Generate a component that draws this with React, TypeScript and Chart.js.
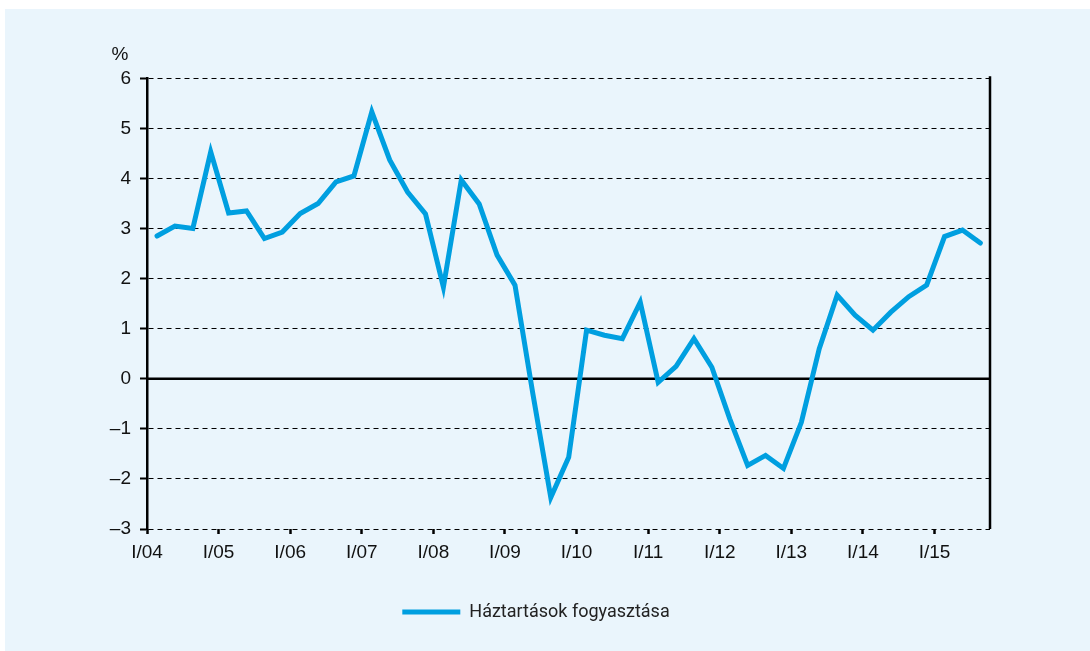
import React, { useEffect, useRef } from "react";
import { Chart, registerables } from "chart.js";

Chart.register(...registerables);

// Year-start tick labels (first quarter of each year)
const yearLabels = ["I/04", "I/05", "I/06", "I/07", "I/08", "I/09", "I/10", "I/11", "I/12", "I/13", "I/14", "I/15"];

// Quarter categories: I/04 ... III/15
const romans = ["I", "II", "III", "IV"];
const quarters: string[] = [];
for (let y = 4; y <= 15; y++) {
  for (let q = 0; q < 4; q++) {
    if (y === 15 && q > 2) break;
    quarters.push(`${romans[q]}/${String(y).padStart(2, "0")}`);
  }
}

// Háztartások fogyasztása (%), quarterly
const consumption = [
  2.85, 3.05, 3.0, 4.53, 3.31, 3.35, 2.8, 2.93, 3.3, 3.5, 3.93, 4.05,
  5.33, 4.37, 3.73, 3.29, 1.83, 3.97, 3.49, 2.47, 1.87, -0.3, -2.37, -1.57,
  0.97, 0.87, 0.8, 1.53, -0.07, 0.25, 0.8, 0.23, -0.8, -1.73, -1.53, -1.79,
  -0.87, 0.6, 1.67, 1.27, 0.97, 1.33, 1.64, 1.87, 2.84, 2.97, 2.71,
];

const seriesLabel = "Háztartások fogyasztása";
const unitLabel = "%";

const LINE_COLOR = "#009fe0";
const PANEL_BG = "#eaf5fc";
const AXIS_FONT = "'Liberation Sans', Arial, Helvetica, sans-serif";

export default function App() {
  const canvasRef = useRef<HTMLCanvasElement | null>(null);

  useEffect(() => {
    const canvas = canvasRef.current;
    if (!canvas) return;

    const decorations = {
      id: "decorations",
      beforeDatasetsDraw(chart: any) {
        const { ctx, chartArea, scales } = chart;
        const y0 = scales.y.getPixelForValue(0);
        ctx.save();
        ctx.strokeStyle = "#000";
        ctx.lineWidth = 2.5;
        ctx.setLineDash([]);
        ctx.beginPath();
        ctx.moveTo(chartArea.left, y0);
        ctx.lineTo(chartArea.right, y0);
        ctx.stroke();
        ctx.beginPath();
        ctx.moveTo(chartArea.right, chartArea.top - 2);
        ctx.lineTo(chartArea.right, chartArea.bottom);
        ctx.stroke();
        ctx.restore();
      },
      afterDraw(chart: any) {
        const { ctx, chartArea } = chart;
        ctx.save();
        ctx.fillStyle = "#111";
        ctx.font = `19px ${AXIS_FONT}`;
        ctx.textAlign = "center";
        ctx.textBaseline = "alphabetic";
        ctx.fillText(unitLabel, chartArea.left - 27, chartArea.top - 18);
        ctx.restore();
      },
    };

    const chart = new Chart(canvas, {
      type: "line",
      data: {
        labels: quarters,
        datasets: [
          {
            label: seriesLabel,
            data: consumption.map((v, i) => ({ x: i + 0.56, y: v })),
            borderColor: LINE_COLOR,
            backgroundColor: LINE_COLOR,
            borderWidth: 5,
            borderCapStyle: "round",
            borderJoinStyle: "miter",
            pointRadius: 0,
            tension: 0,
            fill: false,
          },
        ],
      },
      options: {
        animation: false,
        responsive: false,
        layout: { padding: { left: 77, right: 100, top: 69.3, bottom: 20 } },
        plugins: {
          tooltip: { enabled: false },
          legend: {
            position: "bottom",
            labels: {
              usePointStyle: true,
              pointStyle: "line",
              pointStyleWidth: 58,
              color: "#222",
              font: { family: "Roboto, 'Noto Sans', sans-serif", size: 18 },
              padding: 10,
            },
          },
        },
        scales: {
          x: {
            type: "linear",
            min: 0,
            max: 47.1,
            afterBuildTicks: (scale: any) => {
              scale.ticks = yearLabels.map((_, k) => ({ value: 4 * k }));
            },
            afterFit: (scale: any) => {
              scale.height = 64;
            },
            ticks: {
              autoSkip: false,
              maxRotation: 0,
              padding: 7,
              color: "#111",
              font: { family: AXIS_FONT, size: 19 },
              callback: (_v: any, index: number) => yearLabels[index],
            },
            grid: {
              drawOnChartArea: false,
              drawTicks: true,
              tickLength: 5,
              tickWidth: 2.5,
              tickColor: "#000",
              color: "#000",
            },
            border: { display: false },
          },
          y: {
            min: -3,
            max: 6,
            afterFit: (scale: any) => {
              scale.width = 65;
            },
            ticks: {
              stepSize: 1,
              padding: 9,
              color: "#111",
              font: { family: AXIS_FONT, size: 19 },
              callback: (v: any) => (v < 0 ? `–${Math.abs(v)}` : String(v)),
            },
            grid: {
              color: (ctx: any) => (ctx.tick && ctx.tick.value === 0 ? "rgba(0,0,0,0)" : "#000"),
              lineWidth: 1,
              tickLength: 7,
              tickWidth: 2,
              tickColor: "#000",
              tickBorderDash: [],
            },
            border: { display: true, color: "#000", width: 2.5, dash: [5, 4] },
          },
        },
      },
      plugins: [decorations],
    } as any);

    return () => {
      chart.destroy();
    };
  }, []);

  return (
    <div style={{ position: "fixed", left: 0, top: 0, width: 1090, height: 651, background: "#fff" }}>
      <div style={{ position: "absolute", left: 5, top: 9, width: 1085, height: 642, background: PANEL_BG }}>
        <canvas ref={canvasRef} width={1085} height={642} style={{ display: "block" }} />
      </div>
    </div>
  );
}
